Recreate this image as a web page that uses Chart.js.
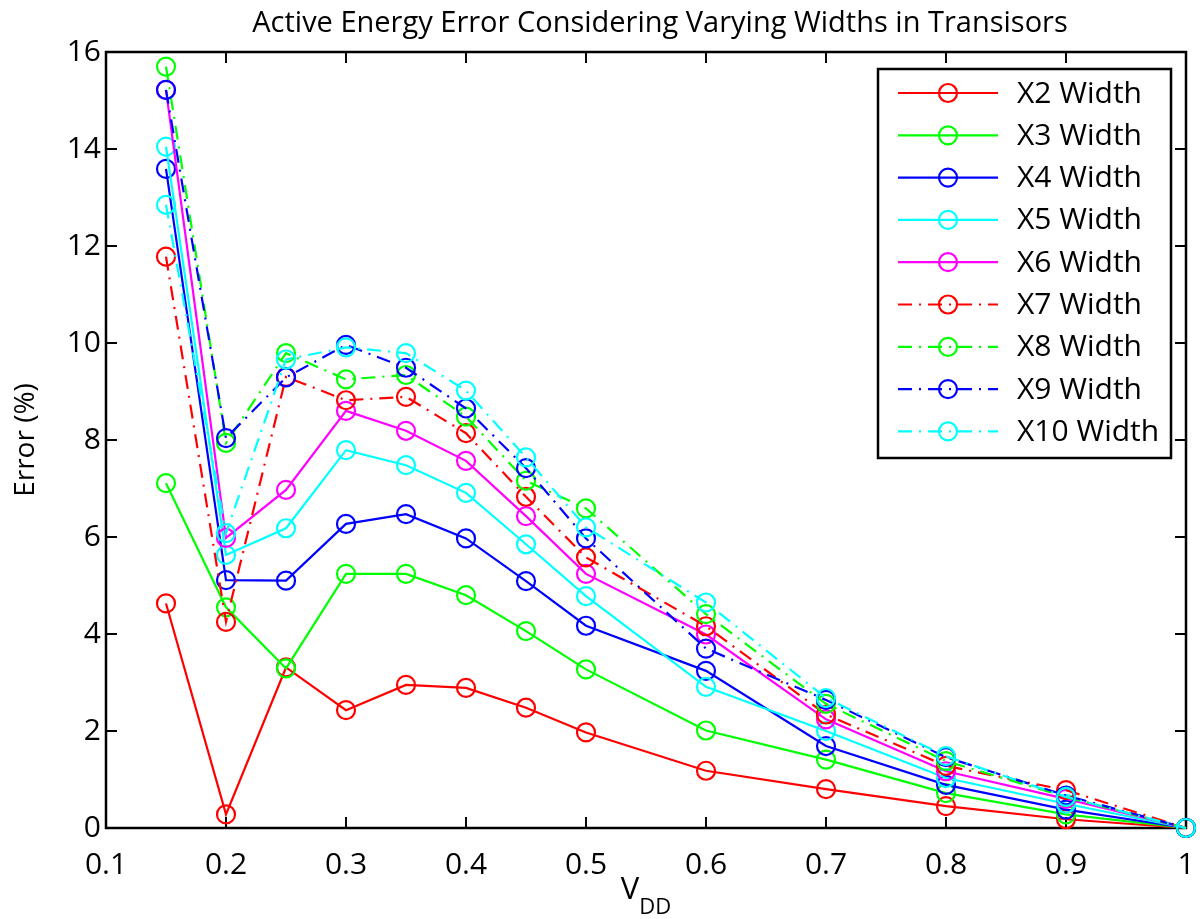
<!DOCTYPE html>
<html>
<head>
<meta charset="utf-8">
<script src="https://cdn.jsdelivr.net/npm/chart.js@4.4.0/dist/chart.umd.min.js"></script>
<style>
  html, body { margin: 0; padding: 0; background: #fff; }
</style>
</head>
<body>
<canvas id="chart" width="1200" height="919"></canvas>
<script>
/* DATA */
const vdd = [0.15, 0.2, 0.25, 0.3, 0.35, 0.4, 0.45, 0.5, 0.6, 0.7, 0.8, 0.9, 1.0];

const x2Width  = [4.63, 0.28, 3.31, 2.43, 2.95, 2.89, 2.48, 1.97, 1.18, 0.80, 0.45, 0.18, 0];
const x3Width  = [7.11, 4.55, 3.29, 5.24, 5.24, 4.80, 4.06, 3.27, 2.01, 1.41, 0.72, 0.28, 0];
const x4Width  = [13.59, 5.11, 5.10, 6.27, 6.47, 5.97, 5.09, 4.17, 3.24, 1.69, 0.89, 0.38, 0];
const x5Width  = [14.05, 5.63, 6.18, 7.79, 7.48, 6.91, 5.85, 4.78, 2.91, 2.00, 1.03, 0.50, 0];
const x6Width  = [15.22, 5.98, 6.97, 8.60, 8.19, 7.57, 6.43, 5.24, 3.99, 2.24, 1.17, 0.60, 0];
const x7Width  = [11.78, 4.25, 9.30, 8.82, 8.89, 8.14, 6.83, 5.58, 4.16, 2.34, 1.28, 0.78, 0];
const x8Width  = [15.70, 7.94, 9.79, 9.25, 9.34, 8.48, 7.16, 6.59, 4.41, 2.56, 1.38, 0.64, 0];
const x9Width  = [15.22, 8.04, 9.29, 9.96, 9.49, 8.65, 7.42, 5.97, 3.70, 2.64, 1.46, 0.67, 0];
const x10Width = [12.85, 6.08, 9.66, 9.91, 9.79, 9.02, 7.64, 6.20, 4.65, 2.68, 1.48, 0.64, 0];

const seriesNames = ["X2 Width", "X3 Width", "X4 Width", "X5 Width", "X6 Width",
  "X7 Width", "X8 Width", "X9 Width", "X10 Width"];
const seriesValues = [x2Width, x3Width, x4Width, x5Width, x6Width,
  x7Width, x8Width, x9Width, x10Width];

const xTicks = [0.1, 0.2, 0.3, 0.4, 0.5, 0.6, 0.7, 0.8, 0.9, 1];
const xTickLabels = ["0.1", "0.2", "0.3", "0.4", "0.5", "0.6", "0.7", "0.8", "0.9", "1"];
const yTicks = [0, 2, 4, 6, 8, 10, 12, 14, 16];

const titleText = "Active Energy Error Considering Varying Widths in Transisors";

/* STYLE */
const FONT = "'Open Sans', 'DejaVu Sans', sans-serif";
const colors = ["#ff0000", "#00ff00", "#0000ff", "#00ffff", "#ff00ff",
  "#ff0000", "#00ff00", "#0000ff", "#00ffff"];
const dashDot = [14, 7, 2, 7];

const datasets = seriesValues.map(function (vals, i) {
  return {
    label: seriesNames[i],
    data: vdd.map(function (x, j) { return { x: x, y: vals[j] }; }),
    borderColor: colors[i],
    borderWidth: 2.2,
    borderDash: i >= 5 ? dashDot : [],
    pointStyle: "circle",
    pointRadius: 9,
    pointHoverRadius: 9,
    pointBorderWidth: 2.2,
    pointBorderColor: colors[i],
    pointBackgroundColor: "rgba(0,0,0,0)",
    fill: false,
    tension: 0,
    clip: false,
    order: seriesValues.length - 1 - i
  };
});

/* axes box, inward ticks, legend and titles (matlab style) */
const matlabFrame = {
  id: "matlabFrame",
  beforeDatasetsDraw(chart) {
    const ctx = chart.ctx;
    const { left, right, top, bottom } = chart.chartArea;
    const xs = chart.scales.x, ys = chart.scales.y;
    const tl = 11;
    ctx.save();
    ctx.strokeStyle = "#000";
    ctx.lineWidth = 2.5;
    ctx.strokeRect(left, top, right - left, bottom - top);
    ctx.lineWidth = 2;
    ctx.beginPath();
    xTicks.forEach(function (v) {
      const px = Math.round(xs.getPixelForValue(v));
      ctx.moveTo(px, bottom); ctx.lineTo(px, bottom - tl);
      ctx.moveTo(px, top); ctx.lineTo(px, top + tl);
    });
    yTicks.forEach(function (v) {
      const py = Math.round(ys.getPixelForValue(v));
      ctx.moveTo(left, py); ctx.lineTo(left + tl, py);
      ctx.moveTo(right, py); ctx.lineTo(right - tl, py);
    });
    ctx.stroke();
    ctx.restore();
  },
  afterDatasetsDraw(chart) {
    const ctx = chart.ctx;
    // legend
    const bx = 878, by = 69, bw = 293, bh = 389;
    ctx.save();
    ctx.fillStyle = "#fff";
    ctx.fillRect(bx, by, bw, bh);
    ctx.strokeStyle = "#000";
    ctx.lineWidth = 2.5;
    ctx.strokeRect(bx, by, bw, bh);
    chart.data.datasets.forEach(function (ds, i) {
      const y = 93 + i * 42.3;
      ctx.strokeStyle = ds.borderColor;
      ctx.lineWidth = 2.2;
      ctx.setLineDash(ds.borderDash);
      ctx.beginPath();
      ctx.moveTo(898, y); ctx.lineTo(998, y);
      ctx.stroke();
      ctx.setLineDash([]);
      ctx.beginPath();
      ctx.arc(948, y, 9, 0, Math.PI * 2);
      ctx.stroke();
      ctx.fillStyle = "#000";
      ctx.font = "30px " + FONT;
      ctx.textAlign = "left";
      ctx.textBaseline = "middle";
      ctx.fillText(ds.label, 1017, y + 1);
    });
    ctx.restore();
  },
  afterDraw(chart) {
    const ctx = chart.ctx;
    const { left, right } = chart.chartArea;
    const cx = (left + right) / 2;
    ctx.save();
    ctx.fillStyle = "#000";
    ctx.textBaseline = "alphabetic";
    // title
    ctx.font = "29px " + FONT;
    ctx.textAlign = "center";
    ctx.fillText(titleText, 660, 32);
    // x label V_DD
    ctx.font = "31px " + FONT;
    const wV = ctx.measureText("V").width;
    ctx.font = "22px " + FONT;
    const wDD = ctx.measureText("DD").width;
    const x0 = cx - (wV + wDD) / 2;
    ctx.textAlign = "left";
    ctx.font = "31px " + FONT;
    ctx.fillText("V", x0, 899);
    ctx.font = "22px " + FONT;
    ctx.fillText("DD", x0 + wV, 914);
    ctx.restore();
  }
};

const ctx = document.getElementById("chart");
new Chart(ctx, {
  type: "line",
  data: { datasets: datasets },
  options: {
    responsive: false,
    animation: false,
    devicePixelRatio: 1,
    layout: {
      autoPadding: false,
      padding: { top: 52, right: 14, left: 0, bottom: 0 }
    },
    scales: {
      x: {
        type: "linear",
        min: 0.1,
        max: 1,
        afterBuildTicks: function (scale) {
          scale.ticks = xTicks.map(function (v) { return { value: v }; });
        },
        afterFit: function (scale) {
          scale.height = 91;
          scale.paddingLeft = 0;
          scale.paddingRight = 0;
        },
        ticks: {
          padding: 19,
          color: "#000",
          font: { family: FONT, size: 30 },
          maxRotation: 0,
          autoSkip: false,
          callback: function (value) {
            const k = xTicks.indexOf(value);
            return k >= 0 ? xTickLabels[k] : "";
          }
        },
        grid: { display: false, drawTicks: false },
        border: { display: false },
        title: { display: false }
      },
      y: {
        min: 0,
        max: 16,
        afterBuildTicks: function (scale) {
          scale.ticks = yTicks.map(function (v) { return { value: v }; });
        },
        afterFit: function (scale) {
          scale.width = 106;
          scale.paddingTop = 0;
          scale.paddingBottom = 0;
        },
        ticks: {
          padding: 5,
          color: "#000",
          font: { family: FONT, size: 30 },
          autoSkip: false
        },
        grid: { display: false, drawTicks: false },
        border: { display: false },
        title: {
          display: true,
          text: "Error (%)",
          color: "#000",
          padding: { top: 9, bottom: 0 },
          font: { family: FONT, size: 28 }
        }
      }
    },
    plugins: {
      legend: { display: false },
      title: { display: false },
      tooltip: { enabled: false }
    }
  },
  plugins: [matlabFrame]
});
</script>
</body>
</html>
